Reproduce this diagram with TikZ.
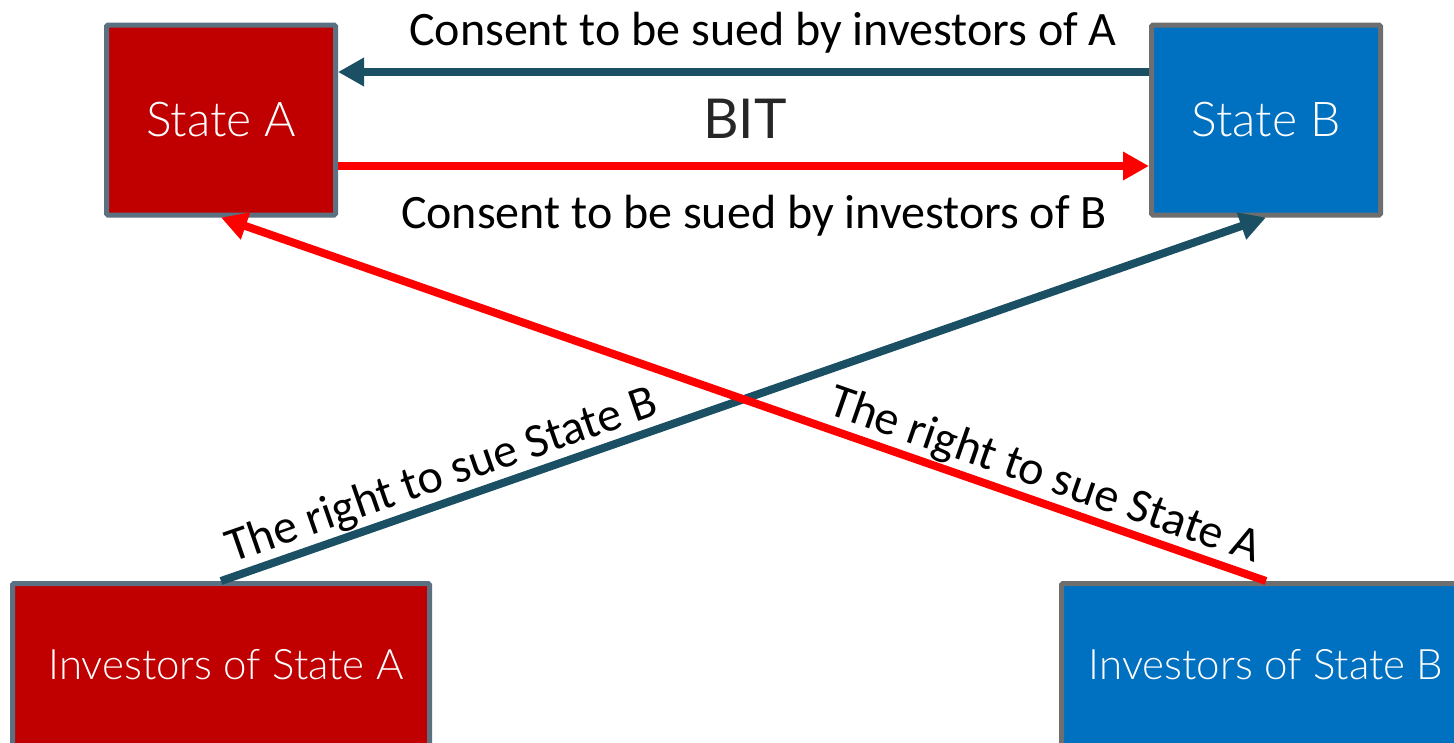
\documentclass[tikz,border=0pt]{standalone}
\usepackage{fontspec}
\setmainfont{Carlito}
\IfFontExistsTF{Lato Light}{\newfontfamily\boxfont{Lato Light}}{\newfontfamily\boxfont{Liberation Sans}}
\newfontfamily\bitfont{Lato}
\usetikzlibrary{arrows.meta}

\definecolor{stateRed}{HTML}{C00000}
\definecolor{stateBlue}{HTML}{0070C0}
\definecolor{edgeA}{HTML}{5B7080}
\definecolor{edgeB}{HTML}{6E6E6E}
\definecolor{darkTeal}{HTML}{1B4F63}
\definecolor{arrRed}{HTML}{FF0000}
\definecolor{bitGrey}{HTML}{262626}

\tikzset{
  statebox/.style={draw, line width=5pt, rounded corners=1.5pt, text=white,
    font=\boxfont\fontsize{48}{50}\selectfont,
    minimum width=229pt, minimum height=190pt},
  investbox/.style={statebox, font=\boxfont\fontsize{42}{44}\selectfont,
    minimum height=163pt},
  link/.style={line width=8pt, -{Triangle[length=26pt,width=27pt]}},
  tag/.style={font=\fontsize{48}{50}\selectfont, text=black}
}

\begin{document}
\begin{tikzpicture}[x=1pt,y=-1pt,every node/.style={inner sep=0pt}]
\useasboundingbox (0,0) rectangle (1454,742);

\node[statebox,fill=stateRed,draw=edgeA](stA) at (221,120){State A};
\node[statebox,fill=stateBlue,draw=edgeB](stB) at (1266,120){State B};
\node[investbox,fill=stateRed,draw=edgeA,minimum width=417pt](invA) at (221,665){\hspace*{10pt}Investors of State A};
\node[investbox,fill=stateBlue,draw=edgeB,minimum width=409pt](invB) at (1266,665){Investors of State B};

\node[font=\bitfont\fontsize{55}{57}\selectfont,text=bitGrey](bit) at (745,119){BIT};

\draw[link,darkTeal]([yshift=48pt]stB.west)--([yshift=48pt]stA.east);
\draw[link,arrRed]([yshift=-46pt]stA.east)--([yshift=-46pt]stB.west);

\node[tag](consA) at (763,33){Consent to be sued by investors of A};
\node[tag](consB) at (754,216){Consent to be sued by investors of B};

\draw[link,darkTeal](invA.north)--(stB.south)
  node[tag,pos=0.22,sloped,above=1pt]{The right to sue State B};
\draw[link,arrRed](invB.north)--(stA.south)
  node[tag,pos=0.22,sloped,above=1pt]{The right to sue State A};

\end{tikzpicture}
\end{document}
